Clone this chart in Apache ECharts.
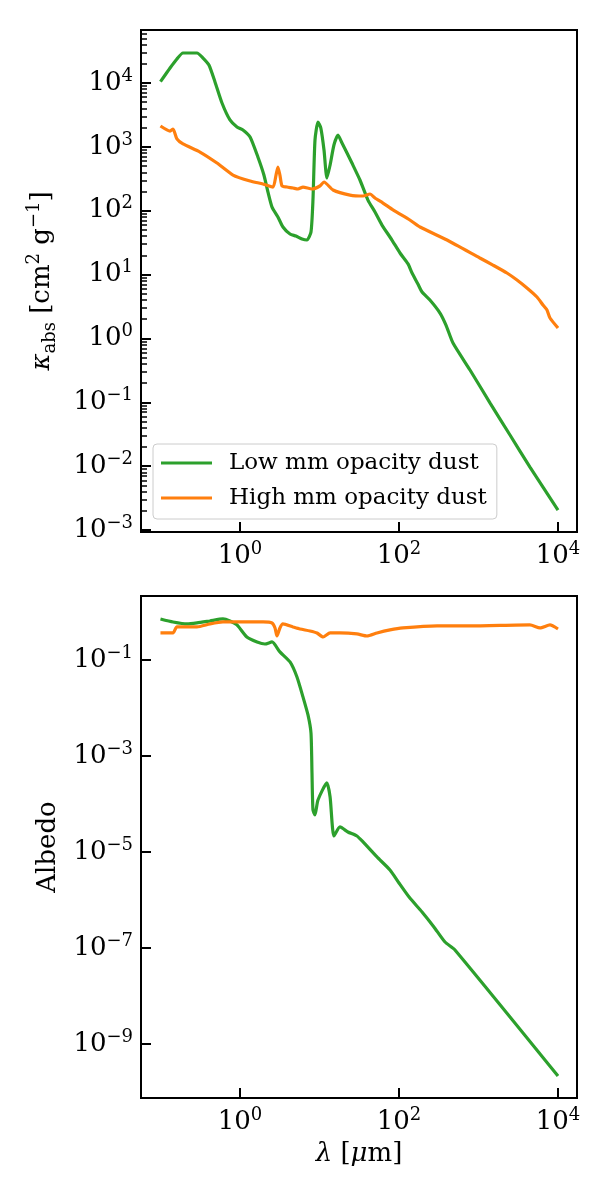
<!DOCTYPE html>
<html>
<head>
<meta charset="UTF-8">
<title>Dust opacity and albedo</title>
<script src="https://cdn.jsdelivr.net/npm/echarts@6/dist/echarts.min.js"></script>
<style>
  html, body { margin: 0; padding: 0; background: #fff; }
  #main { width: 610px; height: 1200px; }
</style>
</head>
<body>
<div id="main"></div>
<script type="text/javascript">
// wavelengths in micron
var lamLowK = [0.1, 0.132, 0.161, 0.192, 0.288, 0.343, 0.407, 0.485, 0.594, 0.748, 0.917, 1.09, 1.34, 1.68, 2.0, 2.25, 2.53, 3.0, 3.47, 4.26, 5.06, 6.03, 6.96, 7.82, 8.28, 8.78, 9.57, 10.4, 11.4, 12.4, 13.6, 15.2, 17.1, 19.2, 22.2, 25.6, 32.3, 40.7, 49.9, 61.1, 81.6, 103, 130, 146, 173, 195, 245, 328, 390, 478, 782, 1400, 2490, 4440, 10000];
var kappaLow = [10500, 17200, 23800, 29500, 29500, 24600, 19100, 10400, 4860, 2640, 2050, 1840, 1430, 693, 362, 196, 114, 79.8, 55.6, 43.2, 40.2, 36.1, 34.8, 46.4, 147, 1280, 2450, 1970, 893, 325, 520, 1070, 1530, 1150, 801, 558, 303, 147, 95.5, 59.7, 34.8, 21.8, 14.7, 10.6, 7.13, 5.34, 4.0, 2.5, 1.62, 0.848, 0.321, 0.0975, 0.0308, 0.0097, 0.00206];

var lamHighK = [0.1, 0.132, 0.144, 0.161, 0.192, 0.314, 0.514, 0.817, 1.34, 1.95, 2.6, 2.84, 3.0, 3.18, 3.38, 3.9, 4.64, 5.37, 6.2, 8.05, 10.1, 11.4, 14.8, 24.2, 35.3, 43.2, 49.9, 62.9, 84.1, 137, 184, 402, 1040, 1520, 2280, 3050, 4070, 5440, 6470, 7270, 7930, 10000];
var kappaHigh = [2120, 1770, 1900, 1330, 1110, 830, 558, 362, 292, 262, 235, 362, 484, 362, 244, 235, 227, 219, 235, 219, 244, 282, 211, 176, 170, 183, 158, 132, 103, 71.6, 55.6, 34.8, 18.2, 14.1, 10.6, 8.22, 6.16, 4.46, 3.34, 2.79, 2.09, 1.46];

var lamLowA = [0.1, 0.144, 0.216, 0.288, 0.419, 0.611, 0.748, 0.917, 1.22, 1.64, 2.06, 2.53, 3.18, 4.26, 5.21, 6.2, 7.17, 7.82, 8.05, 8.28, 8.78, 9.57, 12.4, 13.6, 15.2, 18.1, 22.8, 29.6, 35.3, 52.9, 77.1, 100, 134, 195, 275, 379, 506, 10000];
var albedoLow = [0.715, 0.619, 0.562, 0.59, 0.649, 0.715, 0.649, 0.536, 0.301, 0.237, 0.215, 0.237, 0.147, 0.0909, 0.0442, 0.017, 0.00715, 0.00301, 4.43e-4, 7.5e-5, 5.9e-5, 1.21e-4, 2.74e-4, 1.4e-4, 2.15e-5, 3.32e-5, 2.61e-5, 2.15e-5, 1.62e-5, 7.87e-6, 4.22e-6, 2.26e-6, 1.15e-6, 5.62e-7, 2.74e-7, 1.33e-7, 9.09e-8, 2.15e-10];

var lamHighA = [0.1, 0.132, 0.144, 0.161, 0.216, 0.288, 0.419, 0.611, 1.22, 1.95, 2.53, 2.76, 2.92, 3.18, 3.47, 4.64, 5.69, 7.6, 9.3, 11.1, 13.6, 18.1, 29.6, 39.6, 52.9, 77.1, 112, 301, 782, 4440, 5940, 7930, 10000];
var albedoHigh = [0.365, 0.365, 0.365, 0.487, 0.487, 0.487, 0.562, 0.619, 0.619, 0.619, 0.59, 0.464, 0.316, 0.464, 0.562, 0.487, 0.442, 0.402, 0.365, 0.301, 0.365, 0.365, 0.348, 0.316, 0.365, 0.422, 0.464, 0.511, 0.511, 0.536, 0.464, 0.536, 0.442];

var seriesNames = ['Low mm opacity dust', 'High mm opacity dust'];
var seriesColors = ['#2ca02c', '#ff7f0e'];

// tick positions
var xTicks = [1, 100, 10000];
var kappaTicks = [1e-3, 1e-2, 1e-1, 1, 10, 100, 1000, 10000];
var albedoTicks = [1e-9, 1e-7, 1e-5, 1e-3, 1e-1];

var xMin = 0.0569, xMax = 17340;
var kMin = 9.33e-4, kMax = 67600;
var aMin = 7.5e-11, aMax = 2.15;

var FONT = 'DejaVu Serif';

function pairs(xs, ys) {
    var out = [];
    for (var i = 0; i < xs.length; i++) out.push([xs[i], ys[i]]);
    return out;
}

// minor ticks 2..9 x 10^n inside the range
function minorTicks(lo, hi) {
    var out = [];
    for (var e = Math.floor(Math.log10(lo)); e <= Math.ceil(Math.log10(hi)); e++) {
        for (var m = 2; m <= 9; m++) {
            var v = m * Math.pow(10, e);
            if (v > lo && v < hi) out.push(v);
        }
    }
    return out;
}

function powLabel(v) {
    var e = Math.round(Math.log10(v));
    return '{b|10}{s|' + (e < 0 ? '\u2212' + (-e) : e) + '}';
}

var labelRich = {
    b: { fontFamily: FONT, fontSize: 26, color: '#000', lineHeight: 32 },
    s: { fontFamily: FONT, fontSize: 18, color: '#000', lineHeight: 16, verticalAlign: 'top' }
};

function majorAxis(extra) {
    var ax = {
        type: 'log',
        logBase: 10,
        axisLine: { show: true, onZero: false, lineStyle: { color: '#000', width: 2 } },
        axisTick: { show: true, inside: true, length: 10, lineStyle: { color: '#000', width: 2 } },
        axisLabel: { show: true, margin: 8, formatter: powLabel, rich: labelRich },
        splitLine: { show: false },
        minorTick: { show: false }
    };
    for (var k in extra) {
        if (typeof extra[k] === 'object' && ax[k] && !Array.isArray(extra[k])) {
            for (var kk in extra[k]) ax[k][kk] = extra[k][kk];
        } else {
            ax[k] = extra[k];
        }
    }
    return ax;
}

var nameRich = {
    n: { fontFamily: FONT, fontSize: 26, color: '#000', lineHeight: 34 },
    i: { fontFamily: FONT, fontSize: 26, fontStyle: 'italic', color: '#000', lineHeight: 34 },
    sub: { fontFamily: FONT, fontSize: 18, color: '#000', lineHeight: 18, verticalAlign: 'bottom' },
    sup: { fontFamily: FONT, fontSize: 18, color: '#000', lineHeight: 16, verticalAlign: 'top' }
};

var myChart = echarts.init(document.getElementById('main'), null, { renderer: 'canvas' });

var option = {
    backgroundColor: '#fff',
    animation: false,
    grid: [
        { left: 141, top: 30, width: 436, height: 502, show: true, borderColor: '#000', borderWidth: 2, backgroundColor: 'transparent' },
        { left: 141, top: 596, width: 436, height: 502, show: true, borderColor: '#000', borderWidth: 2, backgroundColor: 'transparent' }
    ],
    legend: {
        data: seriesNames,
        orient: 'vertical',
        left: 153,
        top: 444,
        padding: [7, 10, 9, 8],
        itemGap: 11,
        itemWidth: 51,
        itemHeight: 3,
        icon: 'rect',
        backgroundColor: 'rgba(255,255,255,0.8)',
        borderColor: '#cccccc',
        borderWidth: 1,
        borderRadius: 4,
        textStyle: { fontFamily: FONT, fontSize: 23, color: '#000', lineHeight: 24, padding: [0, 0, 0, 12] }
    },
    xAxis: [
        majorAxis({ gridIndex: 0, min: xMin, max: xMax,
            axisTick: { customValues: xTicks },
            axisLabel: { customValues: xTicks } }),
        majorAxis({ gridIndex: 1, min: xMin, max: xMax,
            axisTick: { customValues: xTicks },
            axisLabel: { customValues: xTicks },
            name: '{i|\u03bb}{n| [}{i|\u03bc}{n|m]}',
            nameLocation: 'middle',
            nameGap: 39,
            nameTextStyle: { rich: nameRich } })
    ],
    yAxis: [
        majorAxis({ gridIndex: 0, min: kMin, max: kMax,
            axisTick: { customValues: kappaTicks },
            axisLabel: { customValues: kappaTicks },
            name: '{i|\u03ba}{sub|abs}{n| [cm}{sup|2}{n| g}{sup|\u22121}{n|]}',
            nameLocation: 'middle',
            nameRotate: 90,
            nameGap: 82,
            nameTextStyle: { rich: nameRich } }),
        {
            type: 'log', logBase: 10, gridIndex: 0, min: kMin, max: kMax, position: 'left',
            axisLine: { show: false },
            axisTick: { show: true, inside: true, length: 6, customValues: minorTicks(kMin, kMax), lineStyle: { color: '#000', width: 1.5 } },
            axisLabel: { show: false },
            splitLine: { show: false }
        },
        majorAxis({ gridIndex: 1, min: aMin, max: aMax,
            axisTick: { customValues: albedoTicks },
            axisLabel: { customValues: albedoTicks },
            name: 'Albedo',
            nameLocation: 'middle',
            nameRotate: 90,
            nameGap: 80,
            nameTextStyle: { fontFamily: FONT, fontSize: 26, color: '#000' } })
    ],
    series: [
        { name: seriesNames[0], type: 'line', xAxisIndex: 0, yAxisIndex: 0, data: pairs(lamLowK, kappaLow) },
        { name: seriesNames[1], type: 'line', xAxisIndex: 0, yAxisIndex: 0, data: pairs(lamHighK, kappaHigh) },
        { name: seriesNames[0], type: 'line', xAxisIndex: 1, yAxisIndex: 2, data: pairs(lamLowA, albedoLow) },
        { name: seriesNames[1], type: 'line', xAxisIndex: 1, yAxisIndex: 2, data: pairs(lamHighA, albedoHigh) }
    ].map(function (s, i) {
        s.showSymbol = false;
        s.symbol = 'none';
        s.clip = true;
        s.smooth = 0.2;
        s.color = seriesColors[i % 2];
        s.lineStyle = { width: 3.2, color: seriesColors[i % 2] };
        s.z = 3;
        return s;
    })
};

myChart.setOption(option);
</script>
</body>
</html>
